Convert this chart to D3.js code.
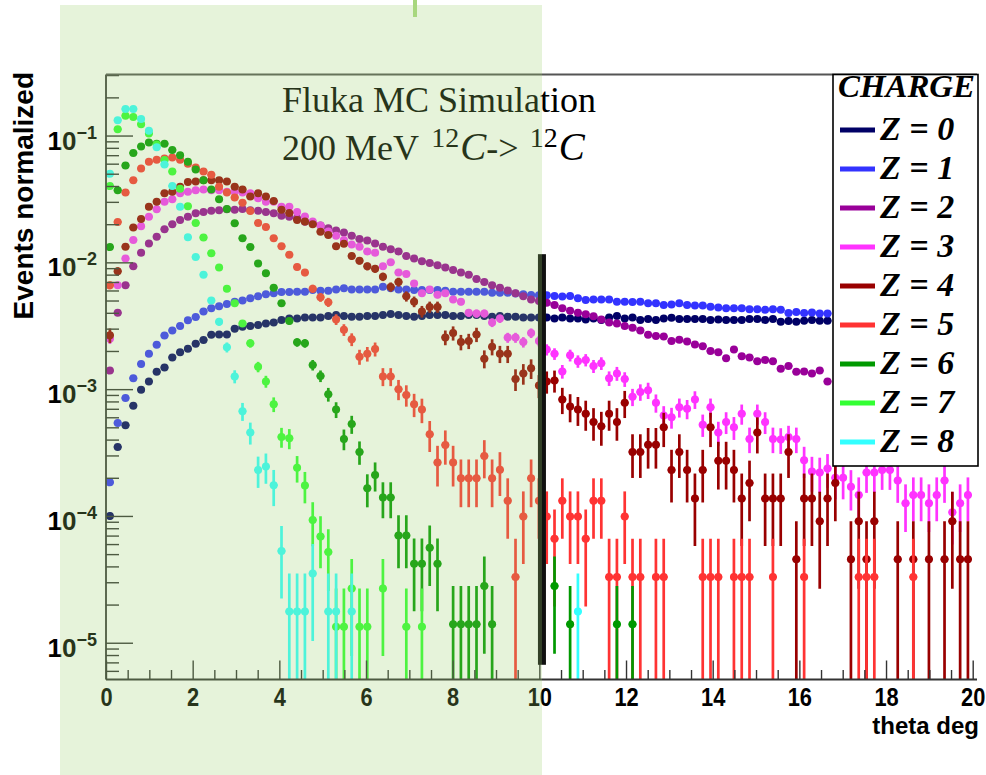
<!DOCTYPE html>
<html>
<head>
<meta charset="utf-8">
<script src="https://cdn.jsdelivr.net/npm/d3@7"></script>
<style>
body{margin:0;background:#fff}
svg{display:block}
</style>
</head>
<body>
<div id="Canvas"></div>
<script>
// 角度分布 theta (deg)，每個 bin 0.18 度
let binWidth = 0.18
let nBins = 111
let thetaBins = d3.range(nBins).map(i => binWidth / 2 + i * binWidth)

let chargeNames = ["Z = 0", "Z = 1", "Z = 2", "Z = 3", "Z = 4", "Z = 5", "Z = 6", "Z = 7", "Z = 8"]
let chargeColors = ["#000066", "#3333ff", "#990099", "#ff33ff", "#990000", "#ff3333", "#009900", "#33ff33", "#33ffff"]
// 一個 MC 事件在歸一化後的大小 (用來算 Poisson 誤差)
let statUnit = [5e-7, 5e-7, 2e-6, 2.1e-5, 4.55e-5, 3.3e-5, 1.4e-5, 1.34e-5, 1.76e-5]

let Z0 = [
  1.0e-4, 3.5e-4, 5.2e-4, 7.4e-4, 9.9e-4, 1.15e-3, 1.37e-3, 1.48e-3, 1.78e-3, 1.95e-3,
  2.08e-3, 2.28e-3, 2.44e-3, 2.68e-3, 2.7e-3, 2.7e-3, 3.0e-3, 3.1e-3, 3.15e-3, 3.2e-3,
  3.3e-3, 3.35e-3, 3.51e-3, 3.61e-3, 3.61e-3, 3.68e-3, 3.68e-3, 3.68e-3, 3.77e-3, 3.84e-3,
  3.77e-3, 3.72e-3, 3.72e-3, 3.77e-3, 3.77e-3, 3.84e-3, 3.91e-3, 3.84e-3, 3.77e-3, 3.72e-3,
  3.77e-3, 3.84e-3, 3.84e-3, 3.84e-3, 3.77e-3, 3.77e-3, 3.84e-3, 3.84e-3, 3.77e-3, 3.72e-3,
  3.77e-3, 3.72e-3, 3.72e-3, 3.68e-3, 3.68e-3, 3.68e-3, 3.68e-3, 3.61e-3, 3.68e-3, 3.61e-3,
  3.61e-3, 3.55e-3, 3.61e-3, 3.51e-3, 3.68e-3, 3.77e-3, 3.61e-3, 3.68e-3, 3.51e-3, 3.57e-3,
  3.51e-3, 3.61e-3, 3.65e-3, 3.57e-3, 3.57e-3, 3.57e-3, 3.57e-3, 3.51e-3, 3.55e-3, 3.51e-3,
  3.51e-3, 3.51e-3, 3.57e-3, 3.57e-3, 3.51e-3, 3.57e-3, 3.4e-3, 3.44e-3, 3.4e-3, 3.46e-3,
  3.51e-3, 3.46e-3, 3.46e-3
]
let Z1 = [
  1.84e-4, 5.4e-4, 8.5e-4, 1.22e-3, 1.58e-3, 1.9e-3, 2.24e-3, 2.65e-3, 2.9e-3, 3.15e-3,
  3.5e-3, 3.7e-3, 4.1e-3, 4.35e-3, 4.5e-3, 4.7e-3, 4.9e-3, 5.0e-3, 5.2e-3, 5.4e-3,
  5.6e-3, 5.7e-3, 5.83e-3, 5.83e-3, 5.87e-3, 5.87e-3, 6.05e-3, 5.97e-3, 5.97e-3, 6.12e-3,
  6.24e-3, 6.12e-3, 6.12e-3, 6.12e-3, 6.12e-3, 6.43e-3, 6.24e-3, 6.12e-3, 6.12e-3, 6.05e-3,
  6.05e-3, 6.05e-3, 6.05e-3, 5.97e-3, 5.87e-3, 5.87e-3, 5.87e-3, 5.87e-3, 5.87e-3, 5.75e-3,
  5.75e-3, 5.75e-3, 5.68e-3, 5.6e-3, 5.52e-3, 5.5e-3, 5.5e-3, 5.42e-3, 5.37e-3, 5.42e-3,
  5.2e-3, 5.05e-3, 5.1e-3, 5.1e-3, 5.1e-3, 4.9e-3, 4.9e-3, 4.86e-3, 4.9e-3, 4.75e-3,
  4.75e-3, 4.6e-3, 4.65e-3, 4.75e-3, 4.6e-3, 4.56e-3, 4.56e-3, 4.47e-3, 4.4e-3, 4.35e-3,
  4.35e-3, 4.35e-3, 4.27e-3, 4.27e-3, 4.22e-3, 4.27e-3, 4.22e-3, 3.98e-3, 4.05e-3, 3.98e-3,
  4.02e-3, 3.95e-3, 3.95e-3
]
let Z2 = [
  1.4e-3, 4.0e-3, 6.6e-3, 9.3e-3, 1.19e-2, 1.41e-2, 1.59e-2, 1.82e-2, 2.0e-2, 2.16e-2,
  2.29e-2, 2.44e-2, 2.5e-2, 2.55e-2, 2.58e-2, 2.62e-2, 2.6e-2, 2.64e-2, 2.58e-2, 2.55e-2,
  2.5e-2, 2.44e-2, 2.33e-2, 2.29e-2, 2.23e-2, 2.09e-2, 2.03e-2, 1.95e-2, 1.86e-2, 1.78e-2,
  1.72e-2, 1.62e-2, 1.53e-2, 1.49e-2, 1.41e-2, 1.33e-2, 1.27e-2, 1.22e-2, 1.12e-2, 1.07e-2,
  1.02e-2, 9.9e-3, 9.5e-3, 9.1e-3, 8.7e-3, 8.3e-3, 8.0e-3, 7.4e-3, 7.0e-3, 6.6e-3,
  6.3e-3, 6.0e-3, 5.7e-3, 5.4e-3, 5.1e-3, 4.95e-3, 4.8e-3, 4.6e-3, 4.35e-3, 4.15e-3,
  4.0e-3, 3.9e-3, 3.75e-3, 3.55e-3, 3.35e-3, 3.3e-3, 3.15e-3, 3.05e-3, 2.9e-3, 2.68e-3,
  2.62e-3, 2.6e-3, 2.4e-3, 2.45e-3, 2.38e-3, 2.25e-3, 2.18e-3, 2.0e-3, 1.95e-3, 1.75e-3,
  2.05e-3, 1.82e-3, 1.78e-3, 1.66e-3, 1.7e-3, 1.66e-3, 1.45e-3, 1.52e-3, 1.37e-3, 1.38e-3,
  1.33e-3, 1.4e-3, 1.15e-3
]
let Z3 = [
  2.5e-3, 6.6e-3, 1.07e-2, 1.5e-2, 1.93e-2, 2.29e-2, 2.62e-2, 3.0e-2, 3.15e-2, 3.5e-2,
  3.6e-2, 3.7e-2, 3.75e-2, 3.7e-2, 3.7e-2, 3.6e-2, 3.6e-2, 3.55e-2, 3.5e-2, 3.2e-2,
  3.0e-2, 3.0e-2, 2.75e-2, 2.75e-2, 2.5e-2, 2.3e-2, 2.1e-2, 1.95e-2, 1.75e-2, 1.62e-2,
  1.5e-2, 1.38e-2, 1.33e-2, 1.22e-2, 1.19e-2, 9.3e-3, 1.0e-2, 8.3e-3, 8.1e-3, 6.8e-3,
  5.7e-3, 6.1e-3, 5.55e-3, 5.7e-3, 5.1e-3, 4.9e-3, 4.0e-3, 3.95e-3, 3.95e-3, 3.35e-3,
  3.6e-3, 2.55e-3, 2.55e-3, 2.35e-3, 2.77e-3, 2.4e-3, 2.05e-3, 1.9e-3, 1.38e-3, 1.85e-3,
  1.66e-3, 1.7e-3, 1.52e-3, 1.6e-3, 1.22e-3, 1.33e-3, 1.2e-3, 8.7e-4, 9.5e-4, 9.8e-4,
  7.8e-4, 6.2e-4, 6.0e-4, 7.2e-4, 7.0e-4, 8.3e-4, 5.25e-4, 7.2e-4, 4.55e-4, 5.5e-4,
  5.0e-4, 6.4e-4, 4.05e-4, 6.4e-4, 5.5e-4, 4.05e-4, 4.0e-4, 4.2e-4, 4.05e-4, 2.75e-4,
  2.24e-4, 2.2e-4, 2.37e-4, 2.0e-4, 2.0e-4, 1.7e-4, 1.46e-4, 2.2e-4, 2.2e-4, 2.3e-4,
  2.3e-4, 1.9e-4, 1.26e-4, 1.46e-4, 1.46e-4, 1.26e-4, 1.46e-4, 1.9e-4, 1.07e-4, 1.26e-4,
  1.46e-4
]
let Z4 = [
  2.66e-3, 8.5e-3, 1.33e-2, 1.88e-2, 2.2e-2, 2.75e-2, 3.0e-2, 3.5e-2, 3.6e-2, 3.95e-2,
  4.3e-2, 4.35e-2, 4.45e-2, 4.45e-2, 4.45e-2, 4.35e-2, 3.95e-2, 3.75e-2, 3.3e-2, 3.5e-2,
  3.3e-2, 3.05e-2, 2.6e-2, 2.45e-2, 2.16e-2, 2.1e-2, 2.0e-2, 1.74e-2, 1.64e-2, 1.34e-2,
  1.4e-2, 1.12e-2, 1.03e-2, 9.3e-3, 8.9e-3, 7.7e-3, 6.4e-3, 7.0e-3, 5.4e-3, 4.9e-3,
  4.1e-3, 4.45e-3, 4.45e-3, 2.56e-3, 2.77e-3, 2.35e-3, 2.4e-3, 2.7e-3, 1.74e-3, 2.16e-3,
  1.9e-3, 1.9e-3, 1.2e-3, 1.33e-3, 1.46e-3, 1.07e-3, 1.15e-3, 1.17e-3, 8.3e-4, 7.3e-4,
  6.9e-4, 6.4e-4, 5.5e-4, 5.1e-4, 6.4e-4, 5.5e-4, 7.8e-4, 3.2e-4, 3.2e-4, 3.65e-4,
  3.65e-4, 5.0e-4, 2.3e-4, 3.2e-4, 2.3e-4, 1.37e-4, 2.3e-4, 5.0e-4, 2.73e-4, 2.73e-4,
  2.3e-4, 1.37e-4, 1.82e-4, 4.55e-4, 1.37e-4, 1.37e-4, 1.37e-4, 3.2e-4, 4.55e-5, 1.37e-4,
  1.37e-4, 9.1e-5, 1.37e-4, 1.82e-4, null, 4.55e-5, 9.1e-5, 4.55e-5, 9.1e-5, null,
  null, 4.55e-5, null, 4.55e-5, null, 4.55e-5, null, 4.55e-5, 9.1e-5, 4.55e-5,
  4.55e-5
]
let Z5 = [
  6.6e-3, 2.08e-2, 3.55e-2, 4.45e-2, 5.5e-2, 6.2e-2, 6.45e-2, 6.6e-2, 6.7e-2, 6.45e-2,
  6.0e-2, 5.6e-2, 5.2e-2, 4.9e-2, 3.95e-2, 3.55e-2, 3.25e-2, 2.95e-2, 2.54e-2, 2.04e-2,
  1.9e-2, 1.55e-2, 1.34e-2, 1.15e-2, 9.2e-3, 8.3e-3, 6.2e-3, 5.3e-3, 4.85e-3, 3.55e-3,
  2.94e-3, 2.47e-3, 1.8e-3, 1.9e-3, 2.07e-3, 1.26e-3, 1.26e-3, 1.0e-3, 9.0e-4, 7.6e-4,
  6.9e-4, 4.4e-4, 2.64e-4, 3.63e-4, 2.64e-4, 1.98e-4, 1.98e-4, 1.98e-4, 2.97e-4, 1.98e-4,
  2.31e-4, 1.32e-4, 3.3e-5, 9.9e-5, 1.98e-4, 1.32e-4, 9.9e-5, 6.6e-5, 1.32e-4, 9.9e-5,
  9.9e-5, 6.6e-5, 1.32e-4, 1.32e-4, 3.3e-5, 3.3e-5, 9.9e-5, 3.3e-5, 3.3e-5, null,
  3.3e-5, 3.3e-5, null, null, null, null, 3.3e-5, 3.3e-5, 3.3e-5, null,
  3.3e-5, 3.3e-5, 3.3e-5, null, null, 3.3e-5, null, null, null, 3.3e-5,
  null, null, null, null, null, null, 3.3e-5, 3.3e-5, 3.3e-5, null,
  null, null, null, 3.3e-5
]
let Z6 = [
  1.32e-2, 3.7e-2, 5.8e-2, 7.3e-2, 8.2e-2, 8.8e-2, 8.6e-2, 8.6e-2, 7.7e-2, 7.0e-2,
  6.2e-2, 5.4e-2, 4.45e-2, 3.75e-2, 3.15e-2, 2.63e-2, 2.03e-2, 1.55e-2, 1.32e-2, 9.8e-3,
  8.2e-3, 6.3e-3, 4.75e-3, 3.45e-3, 2.34e-3, 2.3e-3, 1.55e-3, 1.27e-3, 9.1e-4, 6.9e-4,
  4.05e-4, 5.3e-4, 3.2e-4, 1.65e-4, 2.1e-4, 1.4e-4, 1.4e-4, 7.0e-5, 7.0e-5, 4.2e-5,
  4.2e-5, 5.6e-5, 4.2e-5, null, 1.4e-5, 1.4e-5, 1.4e-5, 1.4e-5, 2.8e-5, 1.4e-5,
  null, null, null, null, null, null, null, 2.8e-5, null, 1.4e-5,
  null, null, null, null, null, 1.4e-5, null, 1.4e-5
]
let Z7 = [
  4.0e-2, 0.112, 0.143, 0.140, 0.123, 0.104, 0.085, 6.4e-2, 5.2e-2, 3.8e-2,
  2.77e-2, 2.04e-2, 1.57e-2, 1.18e-2, 9.1e-3, 6.2e-3, 4.75e-3, 3.3e-3, 2.3e-3, 1.5e-3,
  1.15e-3, 7.6e-4, 4.2e-4, 4.1e-4, 2.4e-4, 1.74e-4, 9.3e-5, 6.9e-5, 5.2e-5, 1.34e-5,
  1.34e-5, 2.68e-5, 1.34e-5, 1.34e-5, null, 2.68e-5, null, null, 1.34e-5, null,
  1.34e-5
]
let Z8 = [
  5.0e-2, 0.132, 0.162, 0.162, 0.135, 0.109, 8.1e-2, 5.9e-2, 4.0e-2, 2.75e-2,
  1.58e-2, 1.1e-2, 8.0e-3, 5.0e-3, 3.4e-3, 2.14e-3, 1.26e-3, 6.7e-4, 4.55e-4, 2.3e-4,
  2.45e-4, 1.75e-4, 5.28e-5, 1.76e-5, 1.76e-5, 1.76e-5, 3.52e-5, null, 1.76e-5, 1.76e-5,
  null, 1.76e-5, null, null, null, null, null, null, null, null,
  null, null, null, null, null, null, null, null, null, null,
  null, null, null, null, null, null, null, null, null, null,
  1.76e-5
]
let allSeries = [Z0, Z1, Z2, Z3, Z4, Z5, Z6, Z7, Z8]

let xMajor = d3.range(0, 21, 2)
let xMinor = d3.range(0, 20.01, 0.5).filter(v => v % 2 != 0)
let yMajor = [1e-5, 1e-4, 1e-3, 1e-2, 1e-1]
let yExp = ["\u22125", "\u22124", "\u22123", "\u22122", "\u22121"]

//創建svg
let svg = d3.select("#Canvas")
    .append("svg")
    .attr("width", 986)
    .attr("height", 775)

let xScale = d3.scaleLinear()
    .domain([0, 20])
    .range([106, 972.7])
let yScale = d3.scaleLog()
    .domain([5.13e-6, 0.303])
    .range([679.5, 74.5])
let [yMin, yMax] = yScale.domain()

let yMinor = []
for (let e = -6; e <= -1; e++) {
    for (let k = 2; k <= 9; k++) {
        let v = k * Math.pow(10, e)
        if (v > yMin && v < yMax) yMinor.push(v)
    }
}

svg.append("defs").append("clipPath").attr("id", "plotClip")
    .append("rect")
    .attr("x", 106).attr("y", 74.5)
    .attr("width", 872).attr("height", 605)

// 資料點 + 誤差
let plot = svg.append("g").attr("clip-path", "url(#plotClip)")
allSeries.forEach((values, s) => {
    let pts = []
    values.forEach((v, i) => {
        if (v != null) pts.push({ theta: thetaBins[i], v: v, err: Math.sqrt(v * statUnit[s]) })
    })
    let g = plot.append("g")
    g.selectAll("line.ev")
        .data(pts)
        .enter()
        .append("line")
        .attr("class", "ev")
        .attr("x1", d => xScale(d.theta))
        .attr("x2", d => xScale(d.theta))
        .attr("y1", d => d.v - d.err > yMin ? yScale(d.v - d.err) : yScale(yMin))
        .attr("y2", d => yScale(Math.min(d.v + d.err, yMax)))
        .style("stroke", chargeColors[s])
        .style("stroke-width", 2.7)
    g.selectAll("line.eh")
        .data(pts)
        .enter()
        .append("line")
        .attr("class", "eh")
        .attr("x1", d => xScale(d.theta - binWidth / 2))
        .attr("x2", d => xScale(d.theta + binWidth / 2))
        .attr("y1", d => yScale(d.v))
        .attr("y2", d => yScale(d.v))
        .style("stroke", chargeColors[s])
        .style("stroke-width", 2)
    g.selectAll("circle")
        .data(pts)
        .enter()
        .append("circle")
        .attr("cx", d => xScale(d.theta))
        .attr("cy", d => yScale(d.v))
        .attr("r", 4)
        .style("fill", chargeColors[s])
})

// 座標軸
let tickColor = "#333"
let xMinorAxis = svg.append("g")
    .attr("transform", "translate(0," + yScale(yMin) + ")")
    .call(d3.axisBottom(xScale).tickValues(xMinor).tickSize(-9.5).tickFormat(""))
let xMajorAxis = svg.append("g")
    .attr("transform", "translate(0," + yScale(yMin) + ")")
    .call(d3.axisBottom(xScale).tickValues(xMajor).tickSize(-19).tickPadding(8).tickFormat(d3.format("d")))
let yMinorAxis = svg.append("g")
    .attr("transform", "translate(" + xScale(0) + ",0)")
    .call(d3.axisLeft(yScale).tickValues(yMinor).tickSize(-13).tickFormat(""))
let yMajorAxis = svg.append("g")
    .attr("transform", "translate(" + xScale(0) + ",0)")
    .call(d3.axisLeft(yScale).tickValues(yMajor).tickSize(-27).tickFormat(""))
;[xMinorAxis, xMajorAxis, yMinorAxis, yMajorAxis].forEach(a => {
    a.select(".domain").remove()
    a.selectAll("line").style("stroke", tickColor).style("stroke-width", 1.4)
})
xMajorAxis.selectAll("text")
    .style("font-family", "'Liberation Sans', Arial, sans-serif")
    .style("font-weight", "bold")
    .style("font-size", "26px")
    .style("fill", "#000")
    .attr("transform", "scale(0.84,1)")

// 框線
svg.append("line")
    .attr("x1", xScale(0)).attr("x2", 977)
    .attr("y1", yScale(yMin)).attr("y2", yScale(yMin))
    .style("stroke", "#333").style("stroke-width", 1.8)
svg.append("line")
    .attr("x1", xScale(0)).attr("x2", xScale(0))
    .attr("y1", yScale(yMin)).attr("y2", yScale(yMax))
    .style("stroke", "#333").style("stroke-width", 1.8)
svg.append("line")
    .attr("x1", xScale(0)).attr("x2", 977)
    .attr("y1", yScale(yMax)).attr("y2", yScale(yMax))
    .style("stroke", "#555").style("stroke-width", 1.8)

// y 軸刻度文字 10^-n
let yLab = svg.append("g")
    .selectAll("text")
    .data(yMajor)
    .enter()
    .append("text")
    .attr("x", 97)
    .attr("y", d => yScale(d) + 14)
    .attr("text-anchor", "end")
    .style("font-family", "'Liberation Sans', Arial, sans-serif")
    .style("font-weight", "bold")
    .style("font-size", "26px")
yLab.append("tspan").text("10")
yLab.append("tspan").attr("dy", -11).style("font-size", "18px").text((d, i) => yExp[i])

// 軸標題
svg.append("text")
    .attr("x", 979).attr("y", 734)
    .attr("text-anchor", "end")
    .style("font-family", "'Liberation Sans', Arial, sans-serif")
    .style("font-weight", "bold")
    .style("font-size", "24px")
    .text("theta deg")
svg.append("text")
    .attr("transform", "translate(33,72) rotate(-90)")
    .attr("text-anchor", "end")
    .style("font-family", "'Liberation Sans', Arial, sans-serif")
    .style("font-weight", "bold")
    .style("font-size", "28px")
    .text("Events normalized")

// 標題
let serif = "'Liberation Serif', 'Times New Roman', serif"
svg.append("text")
    .attr("x", 282).attr("y", 112)
    .style("font-family", serif).style("font-size", "36px")
    .text("Fluka MC Simulation")
let t2 = svg.append("text")
    .attr("x", 282).attr("y", 160)
    .style("font-family", serif).style("font-size", "36px")
t2.append("tspan").text("200 MeV ")
t2.append("tspan").attr("dx", 4).attr("dy", -13).style("font-size", "28px").text("12")
t2.append("tspan").attr("dx", 1).attr("dy", 13).style("font-style", "italic").style("font-size", "39px").text("C")
t2.append("tspan").text("-> ")
t2.append("tspan").attr("dx", 2).attr("dy", -13).style("font-size", "28px").text("12")
t2.append("tspan").attr("dx", 1).attr("dy", 13).style("font-style", "italic").style("font-size", "39px").text("C")

// 10 度的切線
svg.append("rect")
    .attr("x", xScale(10.06) - 4)
    .attr("y", yScale(1.16e-2))
    .attr("width", 8)
    .attr("height", yScale(6.7e-6) - yScale(1.16e-2))
    .style("fill", "#111")

// 圖例
let legend = svg.append("g")
legend.append("rect")
    .attr("x", 833).attr("y", 74.5)
    .attr("width", 145).attr("height", 391.5)
    .style("fill", "#fff").style("stroke", "#000").style("stroke-width", 1.6)
legend.append("text")
    .attr("x", 838).attr("y", 97)
    .attr("textLength", 137).attr("lengthAdjust", "spacingAndGlyphs")
    .style("font-family", serif).style("font-weight", "bold").style("font-style", "italic")
    .style("font-size", "31px")
    .text("CHARGE")
let entry = legend.selectAll("g.entry")
    .data(chargeNames)
    .enter()
    .append("g")
    .attr("class", "entry")
    .attr("transform", (d, i) => "translate(0," + (140 + 39 * i) + ")")
entry.append("line")
    .attr("x1", 840).attr("x2", 875)
    .attr("y1", -10).attr("y2", -10)
    .style("stroke", (d, i) => chargeColors[i])
    .style("stroke-width", 5)
entry.append("text")
    .attr("x", 880).attr("y", 0)
    .style("font-family", serif).style("font-weight", "bold").style("font-style", "italic")
    .style("font-size", "34px")
    .text(d => d)

// 淡綠色的覆蓋區
svg.append("rect")
    .attr("x", 60).attr("y", 5)
    .attr("width", 482).attr("height", 770)
    .style("fill", "rgb(155,207,107)")
    .style("fill-opacity", 0.25)
svg.append("rect")
    .attr("x", 413).attr("y", 0)
    .attr("width", 4).attr("height", 17)
    .style("fill", "#a8d77e")
</script>
</body>
</html>
